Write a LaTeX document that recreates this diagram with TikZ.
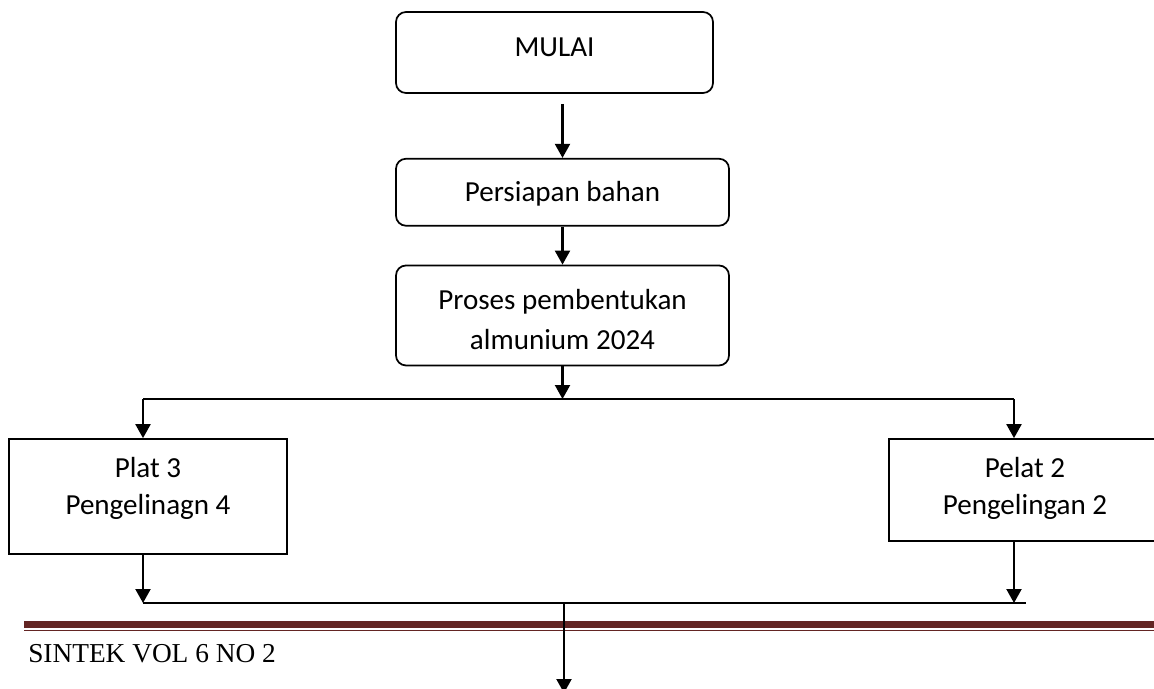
\documentclass[tikz,border=0pt]{standalone}
\usepackage{fontspec}
\setmainfont{Carlito}
\newfontfamily\sintekfont{Liberation Serif}
\usetikzlibrary{arrows.meta,positioning}
\definecolor{sintekred}{HTML}{632523}

\begin{document}
\begin{tikzpicture}[
    x=0.75pt, y=-0.75pt,
    box/.style={rectangle, draw, rounded corners=7.5pt, line width=1.3pt, minimum width=249.75pt, align=center, inner sep=0pt, font=\fontsize{21.8}{30}\selectfont},
    blok/.style={rectangle, draw, line width=1.3pt, align=center, inner sep=0pt, font=\fontsize{21.8}{27.75}\selectfont},
    arr/.style={-{Triangle[width=11.25pt, length=10.5pt]}, line width=1.6pt},
    hline/.style={line width=1pt}
]
\useasboundingbox (0,0) rectangle (1154,689);
\clip (0,0) rectangle (1154,689);

% Alur atas
\node[box, minimum width=237.75pt, minimum height=60.75pt, text height=14pt, text depth=8.2pt] (mulai) at (554.5,52.5) {MULAI};
\node[box, minimum height=50.25pt, below=48pt of mulai, xshift=6pt, text height=14pt, text depth=0pt] (persiapan) {Persiapan bahan};
\node[box, minimum height=75pt, below=28.5pt of persiapan, text height=53pt, text depth=2.2pt] (proses) {Proses pembentukan\\almunium 2024};

% Cabang
\node[blok, minimum width=208.5pt, minimum height=86.25pt, text height=37pt, text depth=10.2pt] (plat3) at (148,496.5) {Plat 3\\Pengelinagn 4};
\node[blok, minimum width=204pt, minimum height=76.5pt, text height=41pt, text depth=4.4pt] (pelat2) at (1025,490) {Pelat 2\\Pengelingan 2};

% Titik sambungan
\coordinate (split) at (560,399);
\coordinate (ltop) at (143,399);
\coordinate (rtop) at (1014,399);
\coordinate (lbot) at (143,603);
\coordinate (rbot) at (1014,603);
\coordinate (rend) at (1026,603);
\coordinate (merge) at (564,603);
\coordinate (fin) at (564,693);

% Kaki halaman
\draw[sintekred, line width=5.25pt] (24,624.5) -- (1160,624.5);
\draw[sintekred, line width=0.9pt] (24,630.5) -- (1160,630.5);
\node[anchor=base west, inner sep=0pt, font=\sintekfont\fontsize{20.5}{24}\selectfont] (sintek) at (28,662) {SINTEK VOL 6 NO 2};

% Panah
\draw[arr, shorten <=7.5pt] (persiapan.north |- mulai.south) -- (persiapan.north);
\draw[arr] (persiapan) -- (proses);
\draw[arr] (proses.south) -- (proses.south |- split);
\draw[hline] (ltop) -- (rtop);
\draw[arr] (ltop) -- (ltop |- plat3.north);
\draw[arr] (rtop) -- (rtop |- pelat2.north);
\draw[arr] (plat3.south -| lbot) -- (lbot);
\draw[arr] (pelat2.south -| rbot) -- (rbot);
\draw[hline] (lbot) -- (rend);
\draw[arr] (merge) -- (fin);
\end{tikzpicture}
\end{document}
